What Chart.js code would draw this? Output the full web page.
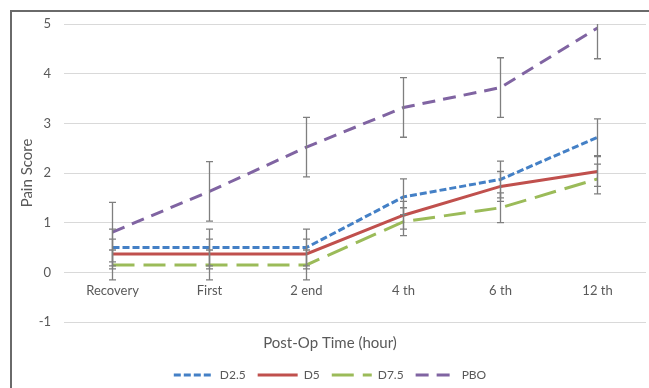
<!DOCTYPE html>
<html>
<head>
<meta charset="utf-8">
<title>Pain Score</title>
<script src="https://cdn.jsdelivr.net/npm/chart.js@4.4.0/dist/chart.umd.min.js"></script>
<style>
    html, body { margin: 0; padding: 0; background: #fff; }
    #wrap { position: relative; width: 649px; height: 388px; overflow: hidden; }
    #frame { position: absolute; left: 10px; top: 10px; width: 700px; height: 400px;
             border-left: 2px solid #6a6a6a; border-top: 2px solid #6a6a6a; }
    #painChart { position: absolute; left: 0; top: 0; }
</style>
</head>
<body>
<div id="wrap">
    <div id="frame"></div>
    <canvas id="painChart" width="649" height="388"></canvas>
</div>
<script>
// Data
const categories = ['Recovery', 'First', '2 end', '4 th', '6 th', '12 th'];

const d25 = [0.5, 0.5, 0.5, 1.52, 1.87, 2.72];
const d25Err = [0.37, 0.37, 0.37, 0.36, 0.37, 0.37];

const d5 = [0.37, 0.37, 0.37, 1.15, 1.73, 2.03];
const d5Err = [0.3, 0.3, 0.3, 0.28, 0.3, 0.3];

const d75 = [0.15, 0.15, 0.15, 1.02, 1.3, 1.88];
const d75Err = [0.3, 0.3, 0.3, 0.28, 0.3, 0.3];

const pbo = [0.81, 1.63, 2.52, 3.32, 3.72, 4.92];
const pboErr = [0.6, 0.6, 0.6, 0.6, 0.6, 0.62];

const yMin = -1;
const yMax = 5;

const textColor = '#595959';
const fontFamily = 'Lato, "Open Sans", sans-serif';

// Draw the grey error bars through the chart's own scales
const errorBars = {
    id: 'errorBars',
    afterDatasetsDraw(chart) {
        const { ctx, chartArea, scales } = chart;
        ctx.save();
        ctx.beginPath();
        ctx.rect(chartArea.left, chartArea.top, chartArea.width, chartArea.height);
        ctx.clip();
        ctx.strokeStyle = '#7f7f7f';
        ctx.lineWidth = 1.3;
        chart.data.datasets.forEach(ds => {
            ds.errors.forEach((e, i) => {
                const px = scales.x.getPixelForValue(i);
                const top = scales.y.getPixelForValue(ds.data[i] + e);
                const bot = scales.y.getPixelForValue(ds.data[i] - e);
                ctx.beginPath();
                ctx.moveTo(px, top);
                ctx.lineTo(px, bot);
                ctx.moveTo(px - 3.5, top);
                ctx.lineTo(px + 3.5, top);
                ctx.moveTo(px - 3.5, bot);
                ctx.lineTo(px + 3.5, bot);
                ctx.stroke();
            });
        });
        ctx.restore();
    }
};

function series(label, data, errors, color, dash) {
    return {
        label: label,
        data: data,
        errors: errors,
        borderColor: color,
        backgroundColor: color,
        borderWidth: 3,
        borderDash: dash,
        pointRadius: 0,
        pointHoverRadius: 0,
        pointStyle: 'line',
        tension: 0,
        fill: false
    };
}

// legend items take the point style, so copy the line dash back in
function legendLabels(chart) {
    const items = Chart.defaults.plugins.legend.labels.generateLabels(chart);
    items.forEach(item => {
        const ds = chart.data.datasets[item.datasetIndex];
        item.lineDash = ds.borderDash;
        item.lineWidth = ds.borderWidth;
        item.strokeStyle = ds.borderColor;
    });
    return items;
}

new Chart(document.getElementById('painChart').getContext('2d'), {
    type: 'line',
    data: {
        labels: categories,
        datasets: [
            series('D2.5', d25, d25Err, '#4480c6', [7, 3]),
            series('D5', d5, d5Err, '#c0504d', []),
            series('D7.5', d75, d75Err, '#9bbb59', [22, 9]),
            series('PBO', pbo, pboErr, '#8064a2', [13, 8])
        ]
    },
    options: {
        responsive: false,
        animation: false,
        devicePixelRatio: 1,
        layout: {
            padding: { top: 24, left: 14, right: 3, bottom: -3 }
        },
        plugins: {
            tooltip: { enabled: false },
            title: {
                display: true,
                text: 'Post-Op Time (hour)',
                position: 'bottom',
                weight: 500,
                color: textColor,
                font: { family: fontFamily, size: 15, weight: 'normal' },
                padding: { top: 12, bottom: 5 }
            },
            legend: {
                position: 'bottom',
                labels: {
                    usePointStyle: true,
                    pointStyleWidth: 40,
                    padding: 12,
                    color: textColor,
                    font: { family: fontFamily, size: 12 },
                    generateLabels: legendLabels
                }
            }
        },
        scales: {
            x: {
                position: { y: 0 },
                offset: true,
                grid: { display: false },
                border: { display: false },
                ticks: {
                    color: textColor,
                    padding: 3,
                    maxRotation: 0,
                    font: { family: fontFamily, size: 13 }
                }
            },
            y: {
                min: yMin,
                max: yMax,
                afterFit(scale) { scale.width = 50; },
                grid: { color: '#d9d9d9', drawTicks: false },
                border: { display: false },
                ticks: {
                    stepSize: 1,
                    padding: 13,
                    color: textColor,
                    font: { family: fontFamily, size: 13 }
                },
                title: {
                    display: true,
                    text: 'Pain Score',
                    color: textColor,
                    font: { family: fontFamily, size: 15 }
                }
            }
        }
    },
    plugins: [errorBars]
});
</script>
</body>
</html>
